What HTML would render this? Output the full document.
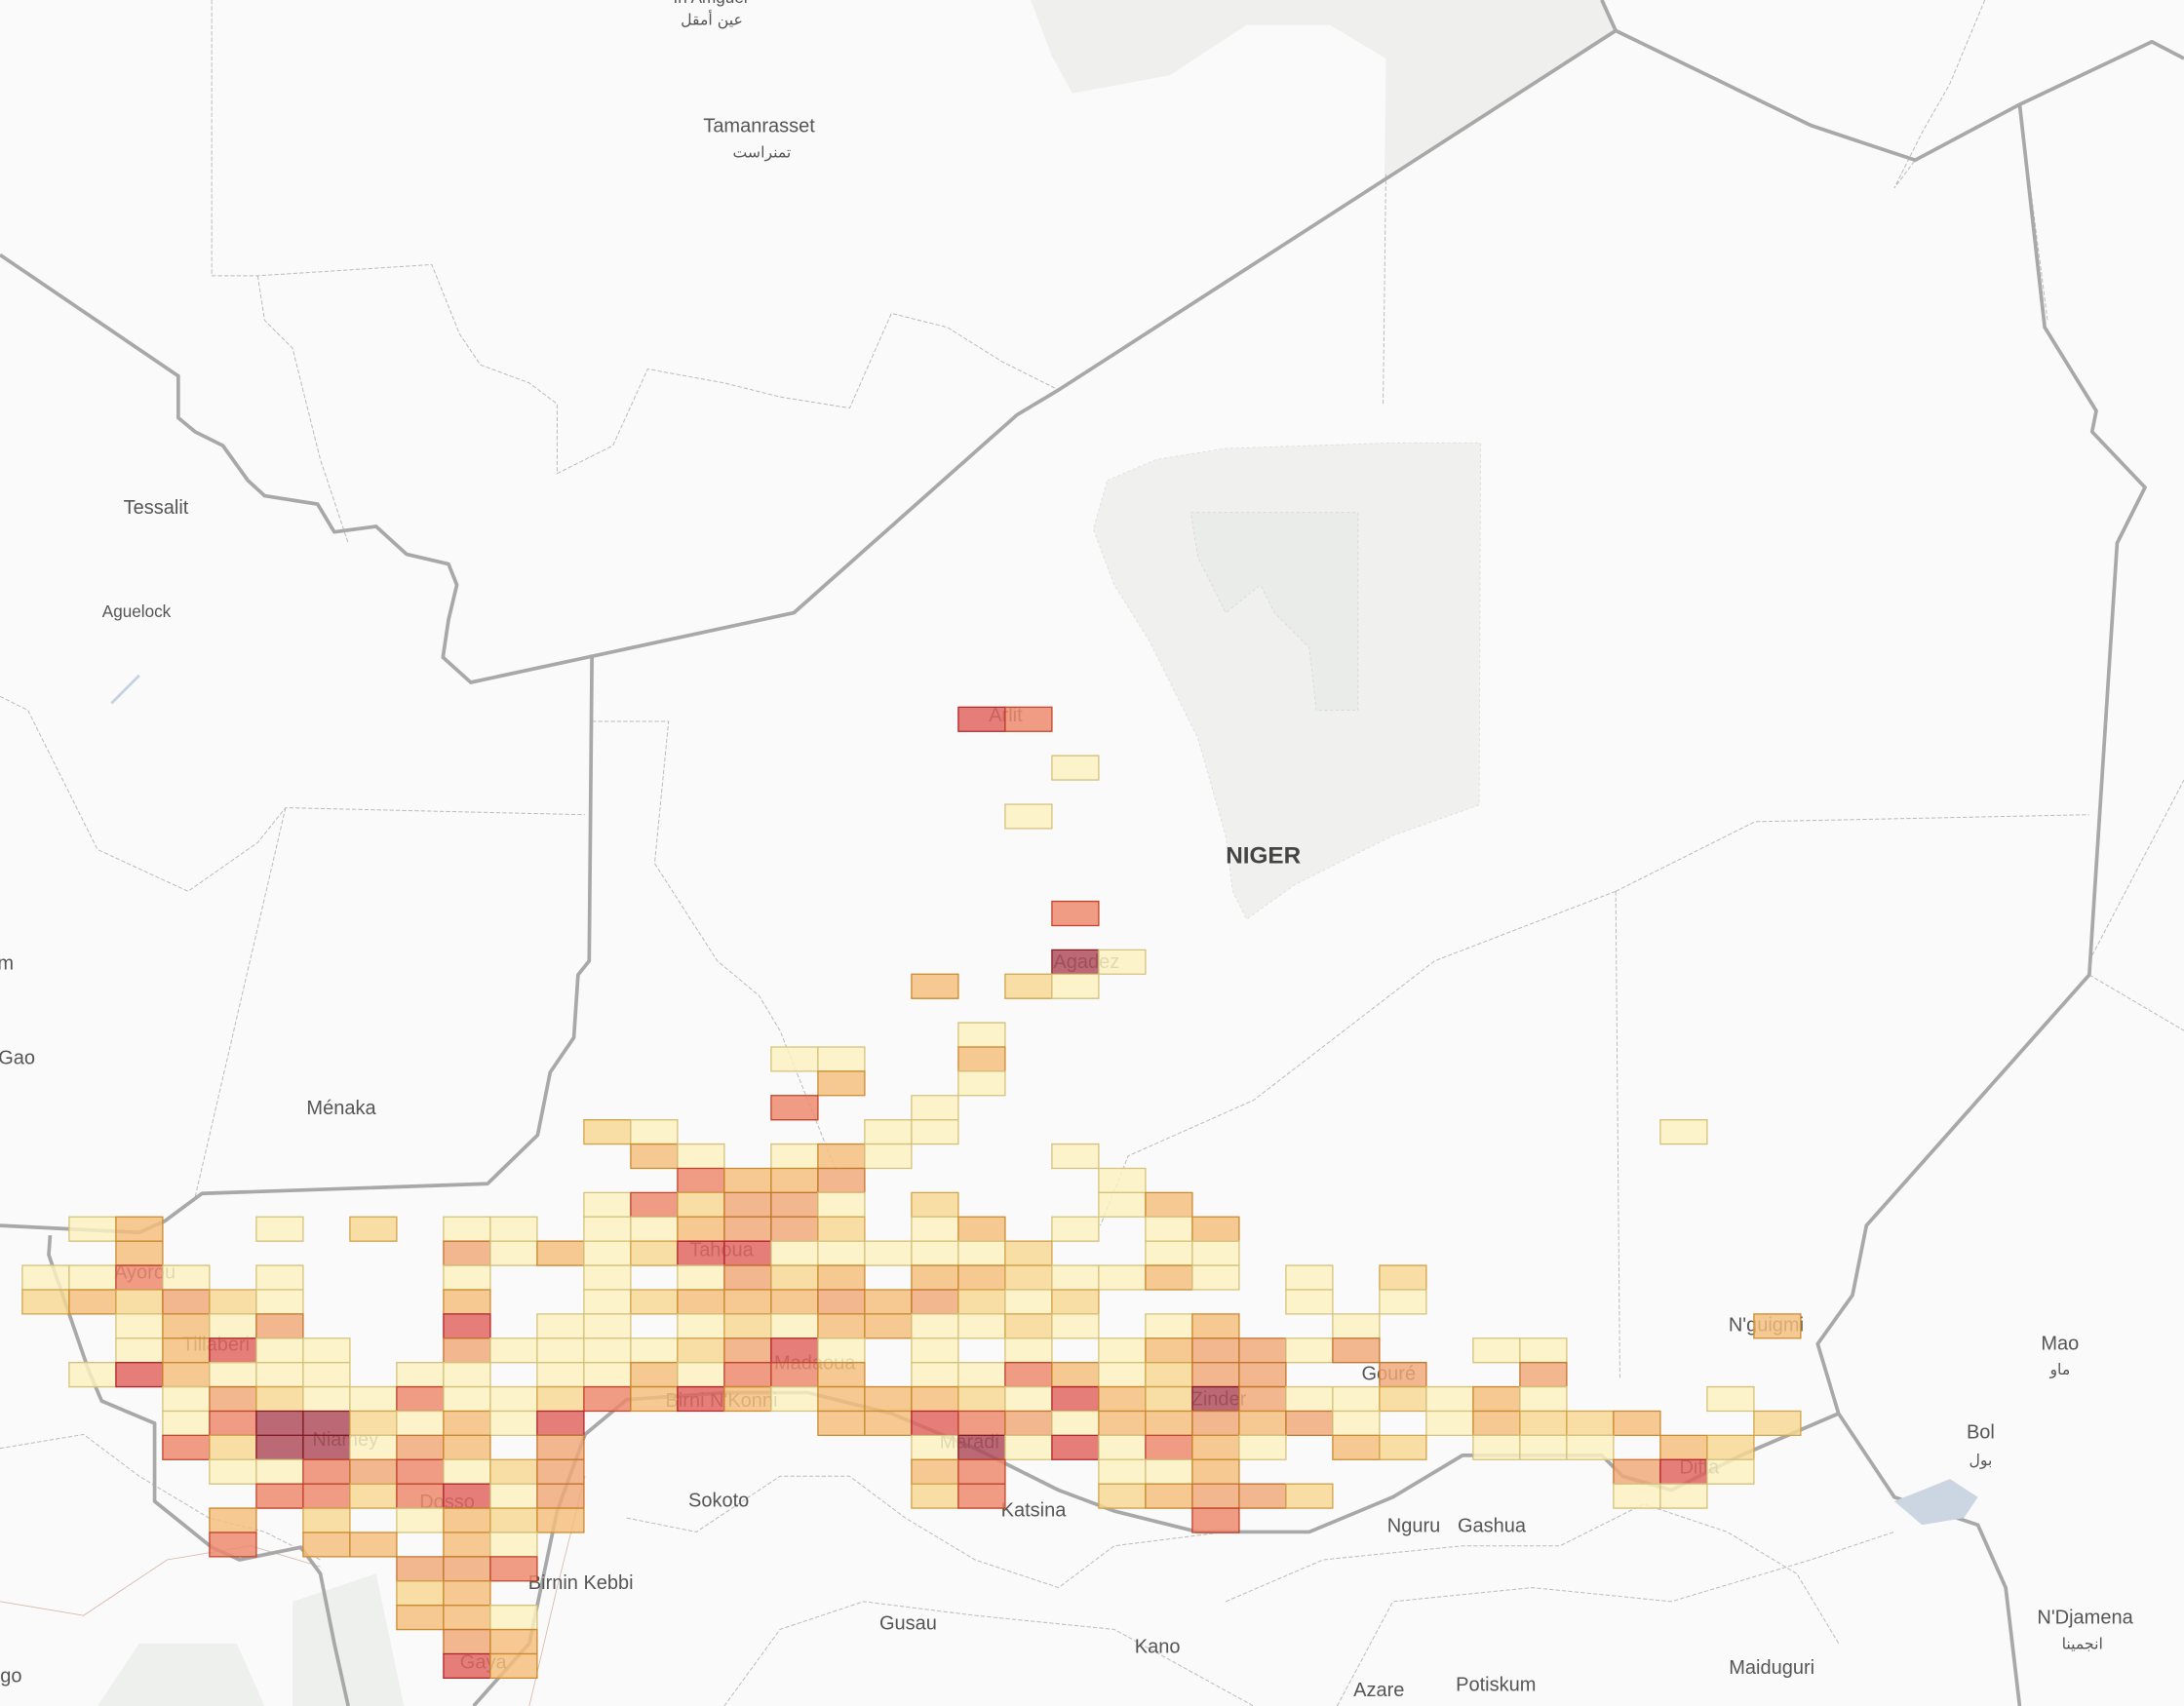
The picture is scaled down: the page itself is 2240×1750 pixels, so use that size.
<!DOCTYPE html>
<html><head><meta charset="utf-8">
<style>
html,body{margin:0;padding:0;background:#fafafa;}
svg{display:block;}
text{font-family:"Liberation Sans","DejaVu Sans",sans-serif;fill:#555;}
.lab{font-size:14px;text-anchor:middle;}
.sm{font-size:12px;text-anchor:middle;}
.ar{font-size:11px;text-anchor:middle;font-family:"DejaVu Sans",sans-serif;}
.cl{font-size:14px;text-anchor:middle;fill:#666;}
rect{vector-effect:non-scaling-stroke;stroke-width:1.3;fill-opacity:0.82;}
.a{fill:#fdf2bf;stroke:#d3c27c}
.b{fill:#f8d793;stroke:#d0a44a}
.c{fill:#f5bd7b;stroke:#c98a2e}
.d{fill:#f0a876;stroke:#c2762c}
.e{fill:#ee886b;stroke:#c0432a}
.f{fill:#e0625c;stroke:#b2262a}
.g{fill:#ad4a58;stroke:#861a22}
</style></head>
<body>
<svg width="2240" height="1750" viewBox="0 0 1568 1225" xmlns="http://www.w3.org/2000/svg">
<rect x="0" y="0" width="1568" height="1225" fill="#fafafa" style="stroke:none;fill-opacity:1"/>
<polygon points="740,0 1152,0 1160,22 994,127 995,42 955,18 895,18 840,54 770,67 755,40" fill="#efefed"/>
<polygon points="795,345 830,330 880,322 1000,318 1063,318 1062,578 1000,600 930,635 895,660 885,640 880,600 860,530 825,460 800,420 785,380" fill="#f0f0ee" stroke="#dcdcdc" stroke-dasharray="2,2" stroke-width="0.6"/>
<polygon points="855,368 975,368 975,510 945,510 940,465 915,440 905,420 880,440 870,420 860,400" fill="#eaecea" stroke="#d6d6d6" stroke-dasharray="2,2" stroke-width="0.6"/>
<polygon points="70,1225 100,1180 170,1180 190,1225" fill="#eef0ee"/>
<polygon points="210,1150 270,1130 290,1225 210,1225" fill="#eef0ee"/>
<g fill="none" stroke="#bbb" stroke-width="0.7" stroke-dasharray="3,1.5">
<polyline points="152,0 152,198 185,198 310,190 330,240 345,262 380,275 400,290 400,340 440,320 465,265 520,275 560,285 610,293 640,225 680,235 720,260 750,275 760,280"/>
<polyline points="185,198 190,230 210,250 230,330 250,390"/>
<polyline points="995,125 993,290"/>
<polyline points="1425,0 1400,60 1380,95 1360,135 1375,115"/>
<polyline points="1450,75 1470,230"/>
<polyline points="0,500 20,510 70,610 135,640 185,605 205,580 420,585"/>
<polyline points="205,580 140,860"/>
<polyline points="425,518 480,518 470,620 515,690 545,715 560,740 600,840"/>
<polyline points="1160,640 1260,590 1500,585"/>
<polyline points="1160,640 1163,990"/>
<polyline points="1160,640 1030,690 900,790 810,830 790,880"/>
<polyline points="1500,700 1568,740"/>
<polyline points="1500,690 1568,560"/>
<polyline points="0,1040 60,1030 100,1060 150,1090 190,1100 230,1120"/>
<polyline points="450,1090 500,1100 560,1060 610,1060 650,1090 700,1120 760,1140 800,1110 880,1100"/>
<polyline points="880,1150 950,1120 1050,1110 1120,1110 1180,1080 1240,1100 1290,1130 1320,1180"/>
<polyline points="520,1225 560,1170 620,1150 700,1160 800,1170 900,1225"/>
<polyline points="960,1225 1000,1150 1100,1140 1200,1150 1300,1120 1360,1100"/>
</g>
<g fill="none" stroke="#d8b8a8" stroke-width="0.6">
<polyline points="0,1150 60,1160 120,1120 180,1110 230,1125"/>
<polyline points="380,1225 400,1140 420,1060"/>
</g>
<g fill="none" stroke="#a8a8a8" stroke-width="2.6" stroke-linejoin="round">
<polyline points="0,183 128,270 128,300 140,310 160,320 178,345 190,356 228,362 240,382 270,378 292,398 322,405 328,420 322,445 318,472 338,490 570,440 730,298 760,280 1160,22 1300,90 1375,115 1450,75 1545,30 1568,42"/>
<polyline points="1160,22 1150,0"/>
<polyline points="1450,75 1468,235 1505,295 1502,310 1540,350 1520,390 1500,700 1340,880 1330,930 1305,965 1320,1015 1360,1075 1420,1095 1440,1140 1450,1225"/>
<polyline points="425,470 423,690 415,700 412,745 395,770 386,815 350,850 145,857 118,877 100,885 0,880"/>
<polyline points="36,887 35,901 64,985 73,1006 111,1022 111,1078 152,1111 172,1120 216,1111 230,1130 240,1180 250,1225"/>
<polyline points="340,1225 380,1180 400,1085 420,1030 450,1005 520,1000 580,1000 640,1015 700,1040 760,1070 800,1085 860,1100 940,1100 1000,1075 1050,1045 1150,1045 1165,1060 1200,1070 1250,1045 1320,1015"/>
</g>
<polygon points="1360,1078 1400,1062 1420,1075 1410,1090 1380,1095" fill="#ccd6e2"/>
<polyline points="100,485 90,495 80,505" stroke="#c5d2e2" stroke-width="2" fill="none"/>
<text class="sm" x="510" y="2">In Amguel</text>
<text class="ar" x="511" y="18">عين أمقل</text>
<text class="lab" x="545" y="95">Tamanrasset</text>
<text class="ar" x="547" y="113">تمنراست</text>
<text class="lab" x="112" y="369">Tessalit</text>
<text class="sm" x="98" y="443">Aguelock</text>
<text x="907" y="620" style="font-size:17px;font-weight:bold;fill:#444;text-anchor:middle">NIGER</text>
<text class="lab" x="245" y="800">Ménaka</text>
<text class="lab" x="12" y="764">Gao</text>
<text class="lab" x="4" y="696">m</text>
<text class="lab" x="516" y="1082">Sokoto</text>
<text class="lab" x="417" y="1141">Birnin Kebbi</text>
<text class="lab" x="652" y="1170">Gusau</text>
<text class="lab" x="742" y="1089">Katsina</text>
<text class="lab" x="831" y="1187">Kano</text>
<text class="lab" x="1015" y="1100">Nguru</text>
<text class="lab" x="1071" y="1100">Gashua</text>
<text class="lab" x="990" y="1218">Azare</text>
<text class="lab" x="1074" y="1214">Potiskum</text>
<text class="lab" x="1272" y="1202">Maiduguri</text>
<text class="lab" x="1497" y="1166">N'Djamena</text>
<text class="ar" x="1495" y="1184">انجمينا</text>
<text class="lab" x="1479" y="969">Mao</text>
<text class="ar" x="1479" y="987">ماو</text>
<text class="lab" x="1422" y="1033">Bol</text>
<text class="ar" x="1422" y="1052">بول</text>
<text class="lab" x="1268" y="956">N'guigmi</text>
<text class="lab" x="8" y="1208">go</text>
<text class="lab" x="997" y="991">Gouré</text>
<text class="cl" x="104" y="918">Ayorou</text>
<text class="cl" x="155" y="970">Tillaberi</text>
<text class="cl" x="248" y="1038">Niamey</text>
<text class="cl" x="321" y="1083">Dosso</text>
<text class="cl" x="347" y="1198">Gaya</text>
<text class="cl" x="518" y="902">Tahoua</text>
<text class="cl" x="585" y="983">Madaoua</text>
<text class="cl" x="518" y="1010">Birni N'Konni</text>
<text class="cl" x="696" y="1040">Maradi</text>
<text class="cl" x="875" y="1009">Zinder</text>
<text class="cl" x="1220" y="1058">Diffa</text>
<text class="cl" x="780" y="695">Agadez</text>
<text class="cl" x="722" y="518">Arlit</text>
<g transform="translate(16.03,873.8) scale(33.6,17.43)">
<rect class="f" x="20" y="-21" width="1" height="1"/><rect class="e" x="21" y="-21" width="1" height="1"/>
<rect class="a" x="22" y="-19" width="1" height="1"/>
<rect class="a" x="21" y="-17" width="1" height="1"/>
<rect class="e" x="22" y="-13" width="1" height="1"/>
<rect class="g" x="22" y="-11" width="1" height="1"/><rect class="a" x="23" y="-11" width="1" height="1"/>
<rect class="c" x="19" y="-10" width="1" height="1"/><rect class="b" x="21" y="-10" width="1" height="1"/><rect class="a" x="22" y="-10" width="1" height="1"/>
<rect class="a" x="20" y="-8" width="1" height="1"/>
<rect class="a" x="16" y="-7" width="1" height="1"/><rect class="a" x="17" y="-7" width="1" height="1"/><rect class="c" x="20" y="-7" width="1" height="1"/>
<rect class="c" x="17" y="-6" width="1" height="1"/><rect class="a" x="20" y="-6" width="1" height="1"/>
<rect class="e" x="16" y="-5" width="1" height="1"/><rect class="a" x="19" y="-5" width="1" height="1"/>
<rect class="b" x="12" y="-4" width="1" height="1"/><rect class="a" x="13" y="-4" width="1" height="1"/><rect class="a" x="18" y="-4" width="1" height="1"/><rect class="a" x="19" y="-4" width="1" height="1"/><rect class="a" x="35" y="-4" width="1" height="1"/>
<rect class="c" x="13" y="-3" width="1" height="1"/><rect class="a" x="14" y="-3" width="1" height="1"/><rect class="a" x="16" y="-3" width="1" height="1"/><rect class="c" x="17" y="-3" width="1" height="1"/><rect class="a" x="18" y="-3" width="1" height="1"/><rect class="a" x="22" y="-3" width="1" height="1"/>
<rect class="e" x="14" y="-2" width="1" height="1"/><rect class="c" x="15" y="-2" width="1" height="1"/><rect class="c" x="16" y="-2" width="1" height="1"/><rect class="d" x="17" y="-2" width="1" height="1"/><rect class="a" x="23" y="-2" width="1" height="1"/>
<rect class="a" x="12" y="-1" width="1" height="1"/><rect class="e" x="13" y="-1" width="1" height="1"/><rect class="b" x="14" y="-1" width="1" height="1"/><rect class="d" x="15" y="-1" width="1" height="1"/><rect class="d" x="16" y="-1" width="1" height="1"/><rect class="a" x="17" y="-1" width="1" height="1"/><rect class="b" x="19" y="-1" width="1" height="1"/><rect class="a" x="23" y="-1" width="1" height="1"/><rect class="c" x="24" y="-1" width="1" height="1"/>
<rect class="a" x="1" y="0" width="1" height="1"/><rect class="c" x="2" y="0" width="1" height="1"/><rect class="a" x="5" y="0" width="1" height="1"/><rect class="b" x="7" y="0" width="1" height="1"/><rect class="a" x="9" y="0" width="1" height="1"/><rect class="a" x="10" y="0" width="1" height="1"/><rect class="a" x="12" y="0" width="1" height="1"/><rect class="a" x="13" y="0" width="1" height="1"/><rect class="c" x="14" y="0" width="1" height="1"/><rect class="d" x="15" y="0" width="1" height="1"/><rect class="d" x="16" y="0" width="1" height="1"/><rect class="b" x="17" y="0" width="1" height="1"/><rect class="a" x="19" y="0" width="1" height="1"/><rect class="c" x="20" y="0" width="1" height="1"/><rect class="a" x="22" y="0" width="1" height="1"/><rect class="a" x="24" y="0" width="1" height="1"/><rect class="c" x="25" y="0" width="1" height="1"/>
<rect class="c" x="2" y="1" width="1" height="1"/><rect class="d" x="9" y="1" width="1" height="1"/><rect class="a" x="10" y="1" width="1" height="1"/><rect class="c" x="11" y="1" width="1" height="1"/><rect class="a" x="12" y="1" width="1" height="1"/><rect class="b" x="13" y="1" width="1" height="1"/><rect class="f" x="14" y="1" width="1" height="1"/><rect class="f" x="15" y="1" width="1" height="1"/><rect class="a" x="16" y="1" width="1" height="1"/><rect class="a" x="17" y="1" width="1" height="1"/><rect class="a" x="18" y="1" width="1" height="1"/><rect class="a" x="19" y="1" width="1" height="1"/><rect class="a" x="20" y="1" width="1" height="1"/><rect class="b" x="21" y="1" width="1" height="1"/><rect class="a" x="24" y="1" width="1" height="1"/><rect class="a" x="25" y="1" width="1" height="1"/>
<rect class="a" x="0" y="2" width="1" height="1"/><rect class="a" x="1" y="2" width="1" height="1"/><rect class="e" x="2" y="2" width="1" height="1"/><rect class="a" x="3" y="2" width="1" height="1"/><rect class="a" x="5" y="2" width="1" height="1"/><rect class="a" x="9" y="2" width="1" height="1"/><rect class="a" x="12" y="2" width="1" height="1"/><rect class="a" x="14" y="2" width="1" height="1"/><rect class="d" x="15" y="2" width="1" height="1"/><rect class="b" x="16" y="2" width="1" height="1"/><rect class="c" x="17" y="2" width="1" height="1"/><rect class="c" x="19" y="2" width="1" height="1"/><rect class="c" x="20" y="2" width="1" height="1"/><rect class="b" x="21" y="2" width="1" height="1"/><rect class="a" x="22" y="2" width="1" height="1"/><rect class="a" x="23" y="2" width="1" height="1"/><rect class="c" x="24" y="2" width="1" height="1"/><rect class="a" x="25" y="2" width="1" height="1"/><rect class="a" x="27" y="2" width="1" height="1"/><rect class="b" x="29" y="2" width="1" height="1"/>
<rect class="b" x="0" y="3" width="1" height="1"/><rect class="c" x="1" y="3" width="1" height="1"/><rect class="b" x="2" y="3" width="1" height="1"/><rect class="d" x="3" y="3" width="1" height="1"/><rect class="b" x="4" y="3" width="1" height="1"/><rect class="a" x="5" y="3" width="1" height="1"/><rect class="c" x="9" y="3" width="1" height="1"/><rect class="a" x="12" y="3" width="1" height="1"/><rect class="b" x="13" y="3" width="1" height="1"/><rect class="c" x="14" y="3" width="1" height="1"/><rect class="c" x="15" y="3" width="1" height="1"/><rect class="c" x="16" y="3" width="1" height="1"/><rect class="d" x="17" y="3" width="1" height="1"/><rect class="c" x="18" y="3" width="1" height="1"/><rect class="d" x="19" y="3" width="1" height="1"/><rect class="b" x="20" y="3" width="1" height="1"/><rect class="a" x="21" y="3" width="1" height="1"/><rect class="b" x="22" y="3" width="1" height="1"/><rect class="a" x="27" y="3" width="1" height="1"/><rect class="a" x="29" y="3" width="1" height="1"/>
<rect class="a" x="2" y="4" width="1" height="1"/><rect class="c" x="3" y="4" width="1" height="1"/><rect class="a" x="4" y="4" width="1" height="1"/><rect class="d" x="5" y="4" width="1" height="1"/><rect class="f" x="9" y="4" width="1" height="1"/><rect class="a" x="11" y="4" width="1" height="1"/><rect class="a" x="12" y="4" width="1" height="1"/><rect class="a" x="14" y="4" width="1" height="1"/><rect class="b" x="15" y="4" width="1" height="1"/><rect class="a" x="16" y="4" width="1" height="1"/><rect class="c" x="17" y="4" width="1" height="1"/><rect class="c" x="18" y="4" width="1" height="1"/><rect class="a" x="19" y="4" width="1" height="1"/><rect class="a" x="20" y="4" width="1" height="1"/><rect class="b" x="21" y="4" width="1" height="1"/><rect class="a" x="22" y="4" width="1" height="1"/><rect class="a" x="24" y="4" width="1" height="1"/><rect class="c" x="25" y="4" width="1" height="1"/><rect class="a" x="28" y="4" width="1" height="1"/><rect class="c" x="37" y="4" width="1" height="1"/>
<rect class="a" x="2" y="5" width="1" height="1"/><rect class="c" x="3" y="5" width="1" height="1"/><rect class="f" x="4" y="5" width="1" height="1"/><rect class="a" x="5" y="5" width="1" height="1"/><rect class="a" x="6" y="5" width="1" height="1"/><rect class="d" x="9" y="5" width="1" height="1"/><rect class="a" x="10" y="5" width="1" height="1"/><rect class="a" x="11" y="5" width="1" height="1"/><rect class="a" x="12" y="5" width="1" height="1"/><rect class="a" x="13" y="5" width="1" height="1"/><rect class="b" x="14" y="5" width="1" height="1"/><rect class="d" x="15" y="5" width="1" height="1"/><rect class="f" x="16" y="5" width="1" height="1"/><rect class="a" x="17" y="5" width="1" height="1"/><rect class="a" x="19" y="5" width="1" height="1"/><rect class="a" x="21" y="5" width="1" height="1"/><rect class="a" x="23" y="5" width="1" height="1"/><rect class="c" x="24" y="5" width="1" height="1"/><rect class="d" x="25" y="5" width="1" height="1"/><rect class="d" x="26" y="5" width="1" height="1"/><rect class="a" x="27" y="5" width="1" height="1"/><rect class="d" x="28" y="5" width="1" height="1"/><rect class="a" x="31" y="5" width="1" height="1"/><rect class="a" x="32" y="5" width="1" height="1"/>
<rect class="a" x="1" y="6" width="1" height="1"/><rect class="f" x="2" y="6" width="1" height="1"/><rect class="c" x="3" y="6" width="1" height="1"/><rect class="a" x="4" y="6" width="1" height="1"/><rect class="a" x="5" y="6" width="1" height="1"/><rect class="a" x="6" y="6" width="1" height="1"/><rect class="a" x="8" y="6" width="1" height="1"/><rect class="a" x="9" y="6" width="1" height="1"/><rect class="a" x="11" y="6" width="1" height="1"/><rect class="a" x="12" y="6" width="1" height="1"/><rect class="c" x="13" y="6" width="1" height="1"/><rect class="a" x="14" y="6" width="1" height="1"/><rect class="e" x="15" y="6" width="1" height="1"/><rect class="e" x="16" y="6" width="1" height="1"/><rect class="c" x="17" y="6" width="1" height="1"/><rect class="a" x="19" y="6" width="1" height="1"/><rect class="a" x="20" y="6" width="1" height="1"/><rect class="e" x="21" y="6" width="1" height="1"/><rect class="c" x="22" y="6" width="1" height="1"/><rect class="a" x="23" y="6" width="1" height="1"/><rect class="b" x="24" y="6" width="1" height="1"/><rect class="d" x="25" y="6" width="1" height="1"/><rect class="d" x="26" y="6" width="1" height="1"/><rect class="d" x="29" y="6" width="1" height="1"/><rect class="d" x="32" y="6" width="1" height="1"/>
<rect class="a" x="3" y="7" width="1" height="1"/><rect class="d" x="4" y="7" width="1" height="1"/><rect class="b" x="5" y="7" width="1" height="1"/><rect class="a" x="6" y="7" width="1" height="1"/><rect class="a" x="7" y="7" width="1" height="1"/><rect class="e" x="8" y="7" width="1" height="1"/><rect class="a" x="9" y="7" width="1" height="1"/><rect class="a" x="10" y="7" width="1" height="1"/><rect class="b" x="11" y="7" width="1" height="1"/><rect class="e" x="12" y="7" width="1" height="1"/><rect class="c" x="13" y="7" width="1" height="1"/><rect class="f" x="14" y="7" width="1" height="1"/><rect class="c" x="15" y="7" width="1" height="1"/><rect class="a" x="16" y="7" width="1" height="1"/><rect class="c" x="17" y="7" width="1" height="1"/><rect class="c" x="18" y="7" width="1" height="1"/><rect class="c" x="19" y="7" width="1" height="1"/><rect class="b" x="20" y="7" width="1" height="1"/><rect class="a" x="21" y="7" width="1" height="1"/><rect class="f" x="22" y="7" width="1" height="1"/><rect class="c" x="23" y="7" width="1" height="1"/><rect class="b" x="24" y="7" width="1" height="1"/><rect class="g" x="25" y="7" width="1" height="1"/><rect class="d" x="26" y="7" width="1" height="1"/><rect class="a" x="27" y="7" width="1" height="1"/><rect class="a" x="28" y="7" width="1" height="1"/><rect class="b" x="29" y="7" width="1" height="1"/><rect class="a" x="30" y="7" width="1" height="1"/><rect class="c" x="31" y="7" width="1" height="1"/><rect class="a" x="32" y="7" width="1" height="1"/><rect class="a" x="36" y="7" width="1" height="1"/>
<rect class="a" x="3" y="8" width="1" height="1"/><rect class="e" x="4" y="8" width="1" height="1"/><rect class="g" x="5" y="8" width="1" height="1"/><rect class="g" x="6" y="8" width="1" height="1"/><rect class="b" x="7" y="8" width="1" height="1"/><rect class="a" x="8" y="8" width="1" height="1"/><rect class="c" x="9" y="8" width="1" height="1"/><rect class="a" x="10" y="8" width="1" height="1"/><rect class="f" x="11" y="8" width="1" height="1"/><rect class="c" x="17" y="8" width="1" height="1"/><rect class="c" x="18" y="8" width="1" height="1"/><rect class="f" x="19" y="8" width="1" height="1"/><rect class="e" x="20" y="8" width="1" height="1"/><rect class="d" x="21" y="8" width="1" height="1"/><rect class="a" x="22" y="8" width="1" height="1"/><rect class="c" x="23" y="8" width="1" height="1"/><rect class="c" x="24" y="8" width="1" height="1"/><rect class="d" x="25" y="8" width="1" height="1"/><rect class="c" x="26" y="8" width="1" height="1"/><rect class="d" x="27" y="8" width="1" height="1"/><rect class="a" x="28" y="8" width="1" height="1"/><rect class="a" x="30" y="8" width="1" height="1"/><rect class="c" x="31" y="8" width="1" height="1"/><rect class="b" x="32" y="8" width="1" height="1"/><rect class="b" x="33" y="8" width="1" height="1"/><rect class="c" x="34" y="8" width="1" height="1"/><rect class="b" x="37" y="8" width="1" height="1"/>
<rect class="e" x="3" y="9" width="1" height="1"/><rect class="b" x="4" y="9" width="1" height="1"/><rect class="g" x="5" y="9" width="1" height="1"/><rect class="g" x="6" y="9" width="1" height="1"/><rect class="a" x="7" y="9" width="1" height="1"/><rect class="d" x="8" y="9" width="1" height="1"/><rect class="c" x="9" y="9" width="1" height="1"/><rect class="d" x="11" y="9" width="1" height="1"/><rect class="a" x="19" y="9" width="1" height="1"/><rect class="g" x="20" y="9" width="1" height="1"/><rect class="a" x="21" y="9" width="1" height="1"/><rect class="f" x="22" y="9" width="1" height="1"/><rect class="a" x="23" y="9" width="1" height="1"/><rect class="e" x="24" y="9" width="1" height="1"/><rect class="c" x="25" y="9" width="1" height="1"/><rect class="a" x="26" y="9" width="1" height="1"/><rect class="c" x="28" y="9" width="1" height="1"/><rect class="b" x="29" y="9" width="1" height="1"/><rect class="a" x="31" y="9" width="1" height="1"/><rect class="a" x="32" y="9" width="1" height="1"/><rect class="a" x="33" y="9" width="1" height="1"/><rect class="c" x="35" y="9" width="1" height="1"/><rect class="b" x="36" y="9" width="1" height="1"/>
<rect class="a" x="4" y="10" width="1" height="1"/><rect class="a" x="5" y="10" width="1" height="1"/><rect class="e" x="6" y="10" width="1" height="1"/><rect class="d" x="7" y="10" width="1" height="1"/><rect class="e" x="8" y="10" width="1" height="1"/><rect class="a" x="9" y="10" width="1" height="1"/><rect class="b" x="10" y="10" width="1" height="1"/><rect class="d" x="11" y="10" width="1" height="1"/><rect class="c" x="19" y="10" width="1" height="1"/><rect class="e" x="20" y="10" width="1" height="1"/><rect class="a" x="23" y="10" width="1" height="1"/><rect class="a" x="24" y="10" width="1" height="1"/><rect class="c" x="25" y="10" width="1" height="1"/><rect class="d" x="34" y="10" width="1" height="1"/><rect class="f" x="35" y="10" width="1" height="1"/><rect class="a" x="36" y="10" width="1" height="1"/>
<rect class="e" x="5" y="11" width="1" height="1"/><rect class="e" x="6" y="11" width="1" height="1"/><rect class="b" x="7" y="11" width="1" height="1"/><rect class="e" x="8" y="11" width="1" height="1"/><rect class="f" x="9" y="11" width="1" height="1"/><rect class="a" x="10" y="11" width="1" height="1"/><rect class="d" x="11" y="11" width="1" height="1"/><rect class="b" x="19" y="11" width="1" height="1"/><rect class="e" x="20" y="11" width="1" height="1"/><rect class="b" x="23" y="11" width="1" height="1"/><rect class="c" x="24" y="11" width="1" height="1"/><rect class="d" x="25" y="11" width="1" height="1"/><rect class="d" x="26" y="11" width="1" height="1"/><rect class="b" x="27" y="11" width="1" height="1"/><rect class="a" x="34" y="11" width="1" height="1"/><rect class="a" x="35" y="11" width="1" height="1"/>
<rect class="c" x="4" y="12" width="1" height="1"/><rect class="b" x="6" y="12" width="1" height="1"/><rect class="a" x="8" y="12" width="1" height="1"/><rect class="c" x="9" y="12" width="1" height="1"/><rect class="b" x="10" y="12" width="1" height="1"/><rect class="c" x="11" y="12" width="1" height="1"/><rect class="e" x="25" y="12" width="1" height="1"/>
<rect class="e" x="4" y="13" width="1" height="1"/><rect class="c" x="6" y="13" width="1" height="1"/><rect class="c" x="7" y="13" width="1" height="1"/><rect class="c" x="9" y="13" width="1" height="1"/><rect class="a" x="10" y="13" width="1" height="1"/>
<rect class="d" x="8" y="14" width="1" height="1"/><rect class="d" x="9" y="14" width="1" height="1"/><rect class="e" x="10" y="14" width="1" height="1"/>
<rect class="b" x="8" y="15" width="1" height="1"/><rect class="c" x="9" y="15" width="1" height="1"/>
<rect class="c" x="8" y="16" width="1" height="1"/><rect class="c" x="9" y="16" width="1" height="1"/><rect class="a" x="10" y="16" width="1" height="1"/>
<rect class="d" x="9" y="17" width="1" height="1"/><rect class="c" x="10" y="17" width="1" height="1"/>
<rect class="f" x="9" y="18" width="1" height="1"/><rect class="c" x="10" y="18" width="1" height="1"/>
</g>
</svg>
</body></html>
